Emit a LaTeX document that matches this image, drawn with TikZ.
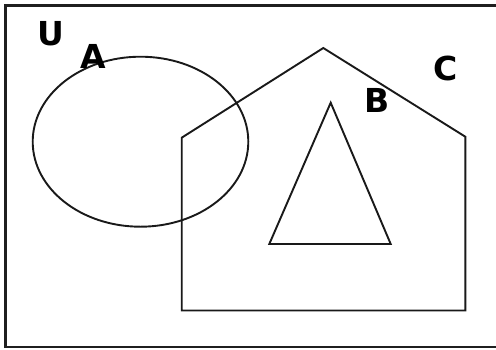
\documentclass[tikz,border=0pt]{standalone}
\usepackage{fontspec}
\setmainfont{DejaVu Sans}
\begin{document}
\begin{tikzpicture}[x=1pt,y=-1pt,
  shape line/.style={draw=black!90, line width=1.9pt, line join=miter},
  frame line/.style={draw=black!88, line width=2.8pt},
  setlabel/.style={font=\fontsize{33}{33}\selectfont\bfseries, inner sep=0pt, anchor=center}]
\useasboundingbox (0,0) rectangle (496,349);
\clip (0,0) rectangle (496,349);
% universe frame (right side cut off by the picture edge)
\draw[frame line] (505,5.5) -- (5.5,5.5) -- (5.5,347) -- (505,347);
% ellipse A
\draw[shape line] (140.5,141.7) ellipse [x radius=107.8, y radius=85];
% pentagon C
\draw[shape line] (181.7,137.7) -- (323.3,48) -- (465.3,136.7) -- (465.3,310.5) -- (181.7,310.5) -- cycle;
% triangle B
\draw[shape line] (330.7,102.7) -- (390.7,244) -- (269.3,244) -- cycle;
% labels
\node[setlabel] (u) at (50.5,33.5) {U};
\node[setlabel] (a) at (93.5,56.5) {A};
\node[setlabel] (b) at (377.5,100.5) {B};
\node[setlabel] (c) at (445.5,68.5) {C};
\end{tikzpicture}
\end{document}
